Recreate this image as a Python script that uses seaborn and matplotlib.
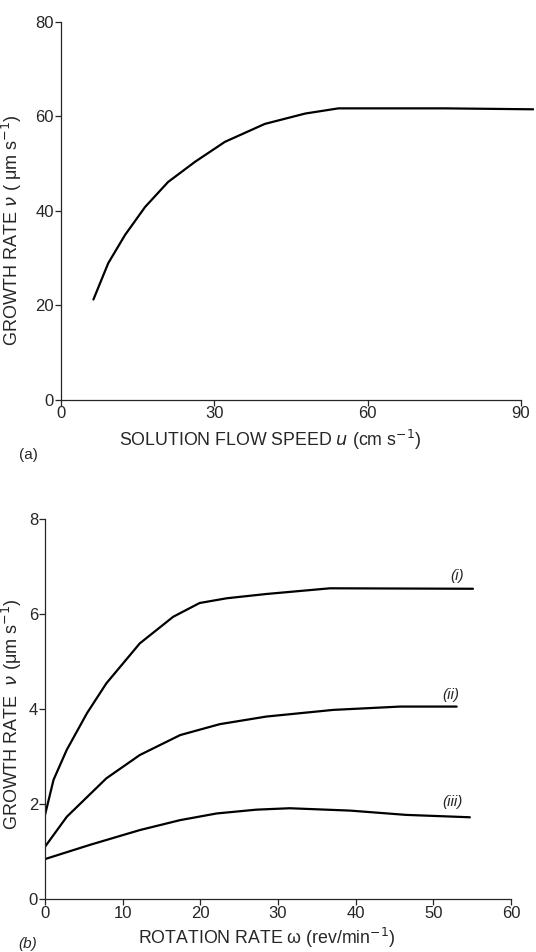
import pandas as pd
import matplotlib.pyplot as plt
import seaborn as sns

# (a) growth rate vs solution flow speed
flow_speed = [6.4, 9.3, 12.6, 16.5, 21.0, 26.3, 32.1, 39.9, 47.8, 54.3, 61.4, 75.0, 92.4]
growth_a = [21.2, 28.9, 34.9, 40.8, 46.1, 50.4, 54.6, 58.4, 60.6, 61.7, 61.7, 61.7, 61.5]

# (b) growth rate vs rotation rate, three curves
rot_i = [0.0, 1.1, 2.8, 5.4, 7.9, 12.2, 16.5, 19.9, 23.4, 28.5, 36.7, 55.1]
growth_i = [1.77, 2.51, 3.14, 3.91, 4.54, 5.38, 5.94, 6.23, 6.33, 6.42, 6.54, 6.53]
rot_ii = [0.0, 2.8, 7.9, 12.2, 17.4, 22.5, 28.5, 37.1, 45.7, 53.0]
growth_ii = [1.10, 1.73, 2.54, 3.03, 3.45, 3.68, 3.84, 3.98, 4.05, 4.05]
rot_iii = [0.0, 5.8, 12.2, 17.4, 22.1, 27.2, 31.5, 39.3, 46.5, 54.7]
growth_iii = [0.84, 1.14, 1.45, 1.66, 1.80, 1.88, 1.91, 1.86, 1.77, 1.72]
curve_names = ['(i)', '(ii)', '(iii)']
label_pos = [(53.0, 6.79), (52.3, 4.29), (52.5, 2.04)]

sns.set_style('ticks')
plt.rcParams['font.family'] = ['Liberation Sans', 'DejaVu Sans']
plt.rcParams['mathtext.fontset'] = 'dejavusans'

fig = plt.figure(figsize=(5.36, 9.52), dpi=100)
ax1 = fig.add_axes([0.1132, 0.5803, 0.8827, 0.3966])
ax2 = fig.add_axes([0.0840, 0.0557, 0.8694, 0.3992])

df_a = pd.DataFrame({'u': flow_speed, 'v': growth_a})
sns.lineplot(data=df_a, x='u', y='v', ax=ax1, color='black', lw=1.6,
             estimator=None, sort=False)
ax1.set_xlim(0, 92.5)
ax1.set_ylim(0, 80)
ax1.set_xticks([0, 30, 60, 90])
ax1.set_yticks([0, 20, 40, 60, 80])
ax1.spines['bottom'].set_bounds(0, 90)
ax1.set_xlabel(r'SOLUTION FLOW SPEED $u$ (cm s$^{-1}$)', fontsize=12.8)
ax1.set_ylabel(r'GROWTH RATE $\nu$ ( μm s$^{-1}$)', fontsize=13)
ax1.xaxis.set_label_coords(0.442, -0.075)
ax1.yaxis.set_label_coords(-0.078, 0.449)
fig.text(0.035, 0.518, '(a)', fontsize=11)

df_b = pd.concat([
    pd.DataFrame({'w': rot_i, 'v': growth_i, 'curve': curve_names[0]}),
    pd.DataFrame({'w': rot_ii, 'v': growth_ii, 'curve': curve_names[1]}),
    pd.DataFrame({'w': rot_iii, 'v': growth_iii, 'curve': curve_names[2]}),
])
sns.lineplot(data=df_b, x='w', y='v', units='curve', ax=ax2, color='black',
             lw=1.6, estimator=None, sort=False, legend=False)
for name, (lx, ly) in zip(curve_names, label_pos):
    ax2.text(lx, ly, name, fontsize=11, style='italic', ha='center', va='center')
ax2.set_xlim(0, 60)
ax2.set_ylim(0, 8)
ax2.set_xticks(range(0, 61, 10))
ax2.set_yticks([0, 2, 4, 6, 8])
ax2.set_xlabel(r'ROTATION RATE ω (rev/min$^{-1}$)', fontsize=12.8)
ax2.set_ylabel(r'GROWTH RATE  $\nu$ (μm s$^{-1}$)', fontsize=13)
ax2.xaxis.set_label_coords(0.476, -0.072)
ax2.yaxis.set_label_coords(-0.045, 0.487)
fig.text(0.035, 0.004, '(b)', fontsize=11, style='italic')

for ax in (ax1, ax2):
    sns.despine(ax=ax)
    for s in ('left', 'bottom'):
        ax.spines[s].set_linewidth(0.9)
    ax.tick_params(direction='out', length=4, width=0.9, labelsize=12, pad=1)

fig.savefig('out.png', dpi=100)
